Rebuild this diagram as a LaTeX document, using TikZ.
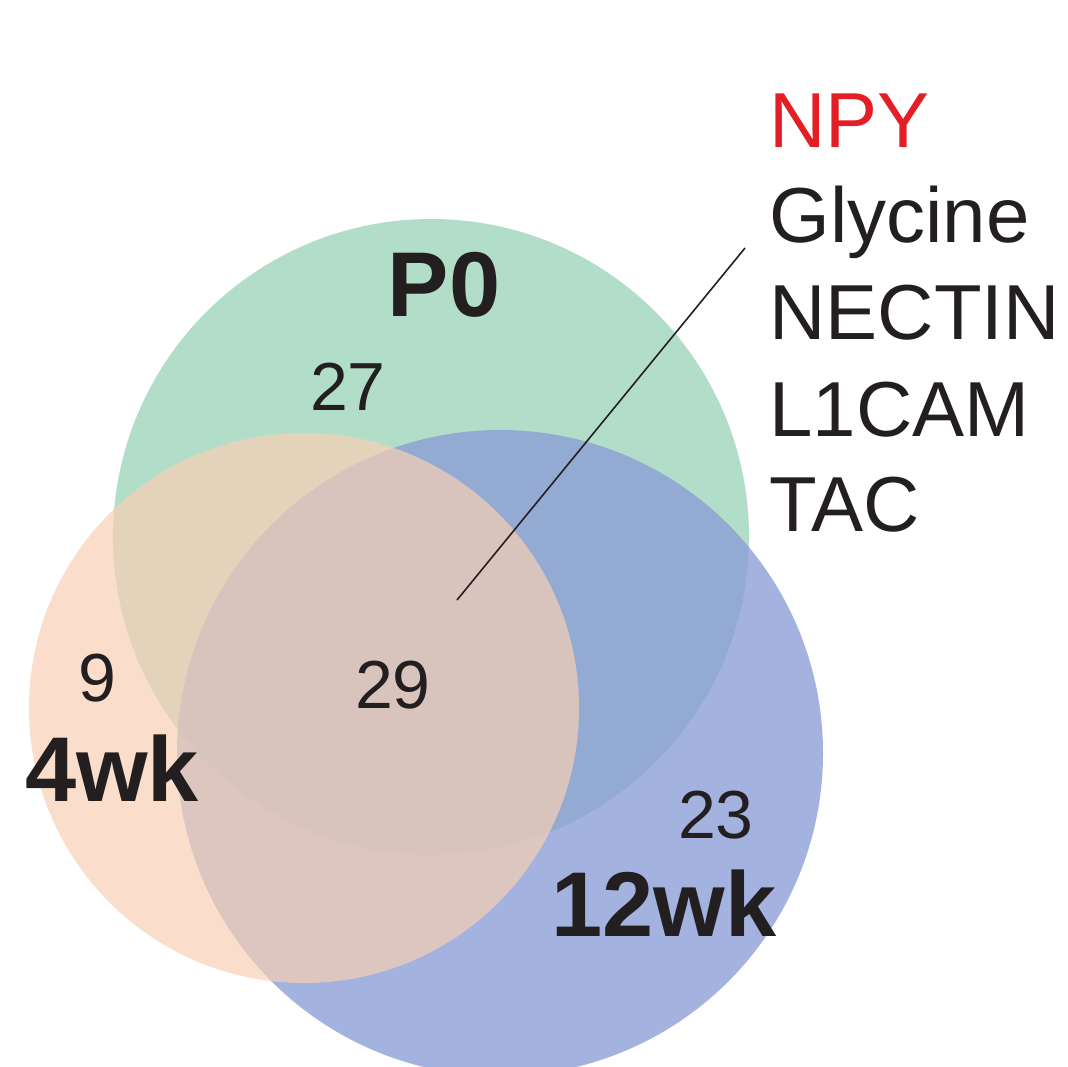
\documentclass[tikz,border=0pt]{standalone}
\usepackage{fontspec}
\setmainfont{Liberation Sans}
\definecolor{cg}{HTML}{9FD6BC}
\definecolor{co}{HTML}{F8CFB4}
\definecolor{cb}{HTML}{8C9FD6}
\definecolor{tx}{HTML}{231F20}
\definecolor{rd}{HTML}{E31E24}
\begin{document}
\begin{tikzpicture}[x=1pt,y=-1pt,
  num/.style={font=\fontsize{68}{68}\selectfont,text=tx},
  lab/.style={font=\fontsize{92}{92}\selectfont\bfseries,text=tx},
  gene/.style={font=\fontsize{78}{80}\selectfont,anchor=west,text=tx}]
\useasboundingbox (0,0) rectangle (1068,1066);
\fill[cg,opacity=0.8] (431,537) circle (318);
\fill[cb,opacity=0.8] (500,753) circle (323);
\fill[co,opacity=0.7] (304,708) circle (275);
\node[lab] (p0) at (444,285) {P0};
\node[lab] (w4) at (112,768) {4wk};
\node[lab] (w12) at (664,903) {12wk};
\node[num] (n27) at (348,387) {27};
\node[num] (n9) at (97,678) {9};
\node[num] (n29) at (393,685) {29};
\node[num] (n23) at (716,815) {23};
\node[gene,text=rd] (g1) at (766,121) {NPY};
\node[gene] (g2) at (766,222) {Glycine};
\node[gene] (g3) at (766,313) {NECTIN};
\node[gene] (g4) at (766,410) {L1CAM};
\node[gene] (g5) at (766,505) {TAC};
\coordinate (a) at (457,600);
\coordinate (b) at (745,248);
\draw[line width=1.6pt,tx] (a) -- (b);
\end{tikzpicture}
\end{document}
